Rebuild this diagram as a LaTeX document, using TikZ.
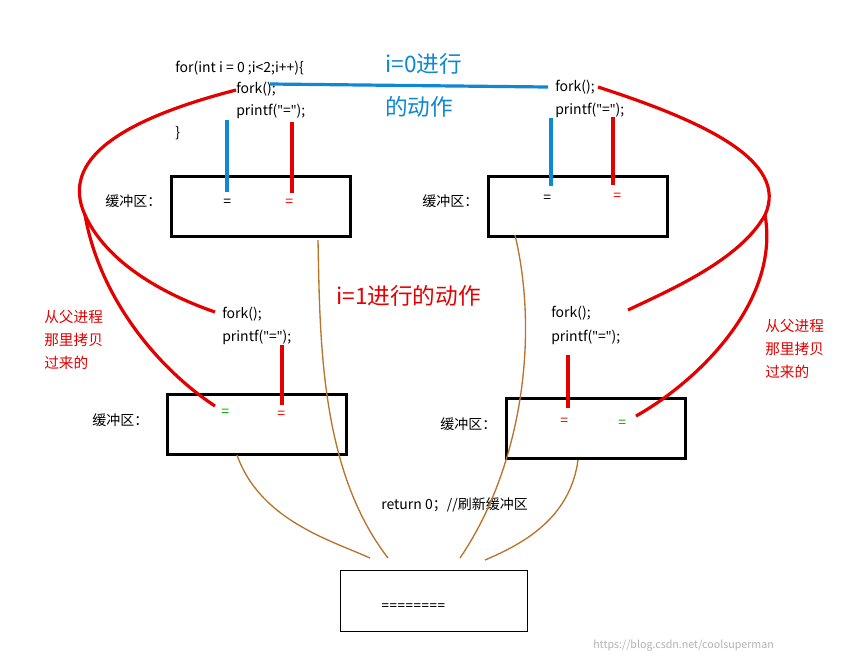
\documentclass[tikz,border=0pt]{standalone}
\usepackage{fontspec}
\setmainfont{Noto Sans CJK SC}
\newfontfamily\latinfont{Noto Sans}
\newcommand{\qt}{{\latinfont"}}
\begin{document}
\begin{tikzpicture}[x=0.75pt,y=-0.75pt,
  code/.style={anchor=west,font=\fontsize{10.5}{12}\selectfont,inner sep=0pt},
  buf/.style={draw,line width=2.2pt,minimum width=134pt,minimum height=45pt,anchor=north west},
  big/.style={anchor=west,font=\fontsize{17}{20}\selectfont,inner sep=0pt},
  note/.style={anchor=west,font=\fontsize{11}{17}\selectfont,align=left,text=red!90!black,inner sep=0pt},
  redline/.style={red!90!black,line width=2.4pt},
  blueline/.style={cyan!70!blue,line width=2.4pt},
  brown/.style={brown!75!orange!90!black,line width=1pt}]
\useasboundingbox[fill=white] (0,0) rectangle (846,662);
% code at the top
\node[code] (for) at (175,68) {for(int i = 0 ;i<2;i++)\{};
\node[code] (fork1) at (236,89) {fork();};
\node[code] (pr1) at (236,111) {printf(\qt=\qt);};
\node[code] at (175,133) {\}};
\node[code] (fork2) at (555,87) {fork();};
\node[code] (pr2) at (555,110) {printf(\qt=\qt);};
\node[big,text=cyan!70!blue] (t0a) at (385,64) {i=0进行};
\node[big,text=cyan!70!blue] (t0b) at (385,107) {的动作};
\node[big,text=red!90!black] (t1) at (336,296) {i=1进行的动作};
\node[code] (fork3) at (222,314) {fork();};
\node[code] (pr3) at (222,337) {printf(\qt=\qt);};
\node[code] (fork4) at (551,313) {fork();};
\node[code] (pr4) at (551,337) {printf(\qt=\qt);};
% buffers
\node[buf] (b1) at (170,175) {};
\node[buf] (b2) at (487,175) {};
\node[buf] (b3) at (166,393) {};
\node[buf] (b4) at (505,397) {};
\node[code] at (105,201) {缓冲区：};
\node[code] at (422,201) {缓冲区：};
\node[code] at (92,420) {缓冲区：};
\node[code] at (440,424) {缓冲区：};
\node[code] (e1a) at (223,203) {=};
\node[code,text=red] (e1b) at (285,203) {=};
\node[code] (e2a) at (543,199) {=};
\node[code,text=red] (e2b) at (613,197) {=};
\node[code,text=green!70!black] (e3a) at (221,413) {=};
\node[code,text=red] (e3b) at (277,415) {=};
\node[code,text=red] (e4a) at (560,422) {=};
\node[code,text=green!70!black] (e4b) at (618,424) {=};
\node[note] at (44,340) {从父进程\\那里拷贝\\过来的};
\node[note] at (765,349) {从父进程\\那里拷贝\\过来的};
% final output
\node[draw,thick,minimum width=140pt,minimum height=46pt,anchor=north west] (out) at (340,570) {};
\node[code,font=\latinfont\fontsize{10.5}{12}\selectfont] (eq) at (381,607) {========};
\node[code] (ret) at (381,505) {return 0；//刷新缓冲区};
\node[anchor=west,font=\fontsize{8}{10}\selectfont,text=gray!60,inner sep=0pt] at (593,646) {https://blog.csdn.net/coolsuperman};
% strokes
\draw[blueline] (270,84) -- (548,87);
\draw[blueline] (227,120) -- (227,192);
\draw[blueline] (551,118) -- (551,186);
\draw[redline] (292,122) -- (292,193);
\draw[redline] (613,117) -- (613,185);
\draw[redline] (282,345) -- (282,405);
\draw[redline] (568,355) -- (568,408);
\draw[redline] (236,90) .. controls (120,120) and (60,160) .. (85,215)
  .. controls (110,270) and (180,300) .. (215,312);
\draw[redline] (85,215) .. controls (100,300) and (160,370) .. (215,406);
\draw[redline] (598,87) .. controls (700,120) and (790,160) .. (765,215)
  .. controls (740,260) and (670,290) .. (628,310);
\draw[redline] (765,215) .. controls (780,300) and (700,380) .. (636,416);
\draw[brown] (318,240) .. controls (320,340) and (320,470) .. (388,558);
\draw[brown] (237,455) .. controls (260,520) and (330,540) .. (370,558);
\draw[brown] (515,235) .. controls (540,340) and (520,470) .. (460,558);
\draw[brown] (578,460) .. controls (570,520) and (520,545) .. (485,560);
\end{tikzpicture}
\end{document}
